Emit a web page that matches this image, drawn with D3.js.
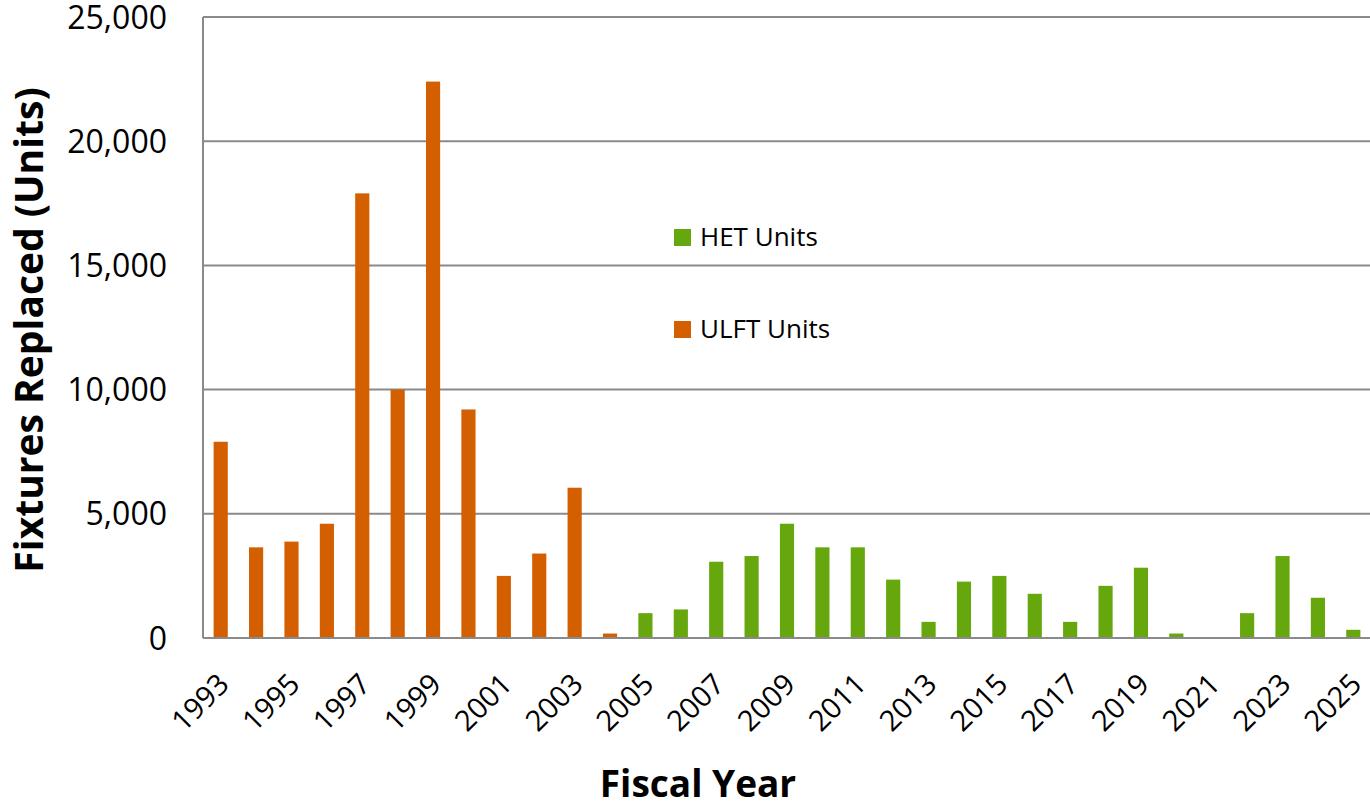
<!DOCTYPE html>
<html lang="en">
<head>
<meta charset="utf-8">
<title>Fixtures Replaced</title>
<script src="https://d3js.org/d3.v7.min.js"></script>
<style>
  body { margin: 0; background: #fff; }
  text { font-family: "Open Sans", Lato, sans-serif; fill: #000; }
</style>
</head>
<body>
<div id="chart"></div>
<script>
// data
var years = d3.range(1993, 2026).map(String);
var ulftUnits = [7900, 3650, 3880, 4600, 17900, 10000, 22400, 9200, 2500, 3400, 6050, 180,
  null, null, null, null, null, null, null, null, null, null, null, null, null, null, null, null, null, null, null, null, null];
var hetUnits = [null, null, null, null, null, null, null, null, null, null, null, null,
  1000, 1150, 3070, 3300, 4600, 3650, 3650, 2350, 650, 2270, 2500, 1780, 650, 2100, 2830, 180, 0, 1000, 3300, 1620, 330];
var yTicks = [0, 5000, 10000, 15000, 20000, 25000];
var xLabels = years.filter(function(d, i) { return i % 2 === 0; });

var W = 1370, H = 808;
var margin = {top: 17, right: 0, bottom: 170, left: 203};
var width = W - margin.left - margin.right,
    height = H - margin.top - margin.bottom;

var svg = d3.select("#chart").append("svg")
    .attr("width", W).attr("height", H)
  .append("g")
    .attr("transform", "translate(" + margin.left + "," + margin.top + ")");

var x = d3.scaleBand()
    .domain(years)
    .range([0, width + 1])
    .paddingInner(0.6)
    .paddingOuter(0.3);

var y = d3.scaleLinear()
    .domain([0, 25000])
    .range([height, 0]);

// gridlines
svg.append("g")
  .selectAll("line")
  .data(yTicks.slice(1))
  .enter().append("line")
    .attr("x1", 0).attr("x2", width)
    .attr("y1", function(d) { return y(d); })
    .attr("y2", function(d) { return y(d); })
    .attr("stroke", "#8a8a8a")
    .attr("stroke-width", 2);

// y tick labels
svg.append("g")
  .selectAll("text")
  .data(yTicks)
  .enter().append("text")
    .attr("x", -36)
    .attr("y", function(d) { return y(d); })
    .attr("dy", "0.36em")
    .attr("text-anchor", "end")
    .style("font-size", "32px")
    .text(d3.format(","));

// bars
var series = [
  {key: "ULFT Units", values: ulftUnits, color: "#d45f00"},
  {key: "HET Units", values: hetUnits, color: "#66a70e"}
];

series.forEach(function(s) {
  svg.append("g")
    .attr("fill", s.color)
    .selectAll("rect")
    .data(years.map(function(yr, i) { return {year: yr, v: s.values[i]}; })
      .filter(function(d) { return d.v != null && d.v > 0; }))
    .enter().append("rect")
      .attr("x", function(d) { return x(d.year); })
      .attr("width", x.bandwidth())
      .attr("y", function(d) { return y(d.v); })
      .attr("height", function(d) { return height - y(d.v); });
});

// axis lines
svg.append("line")
  .attr("x1", 0).attr("x2", 0).attr("y1", 0).attr("y2", height)
  .attr("stroke", "#8a8a8a").attr("stroke-width", 2);
svg.append("line")
  .attr("x1", 0).attr("x2", width).attr("y1", height).attr("y2", height)
  .attr("stroke", "#8a8a8a").attr("stroke-width", 2);

// x tick labels, rotated
svg.append("g")
  .selectAll("text")
  .data(xLabels)
  .enter().append("text")
    .attr("transform", function(d) {
      return "translate(" + (x(d) + x.bandwidth() / 2 + 10) + "," + (height + 48) + ")rotate(-45)";
    })
    .attr("text-anchor", "end")
    .style("font-size", "29px")
    .text(function(d) { return d; });

// axis titles
svg.append("text")
  .attr("transform", "translate(" + (43 - margin.left) + "," + (330 - margin.top) + ")rotate(-90)")
  .attr("text-anchor", "middle")
  .style("font-size", "39px")
  .style("font-weight", "bold")
  .text("Fixtures Replaced (Units)");

svg.append("text")
  .attr("x", 698 - margin.left)
  .attr("y", 797 - margin.top)
  .attr("text-anchor", "middle")
  .style("font-size", "37px")
  .style("font-weight", "bold")
  .text("Fiscal Year");

// legend
var legend = svg.append("g")
  .attr("transform", "translate(" + (674 - margin.left) + "," + (246 - margin.top) + ")");
var legendItems = legend.selectAll("g")
  .data([series[1], series[0]])
  .enter().append("g")
    .attr("transform", function(d, i) { return "translate(0," + (i * 92) + ")"; });
legendItems.append("rect")
  .attr("x", 0).attr("y", -17)
  .attr("width", 17).attr("height", 17)
  .attr("fill", function(d) { return d.color; });
legendItems.append("text")
  .attr("x", 26).attr("y", 0)
  .style("font-size", "26px")
  .text(function(d) { return d.key; });
</script>
</body>
</html>
